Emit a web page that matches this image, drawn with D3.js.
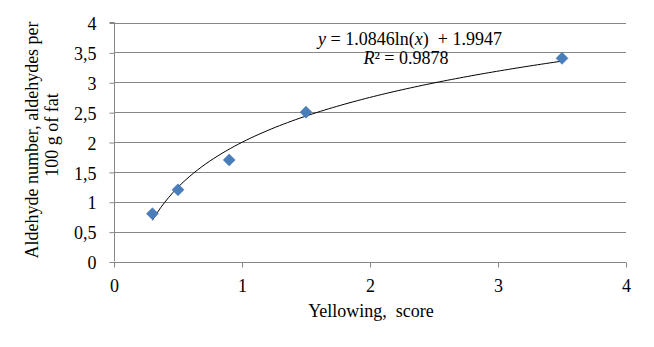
<!DOCTYPE html>
<html>
<head>
<meta charset="utf-8">
<script src="https://cdn.jsdelivr.net/npm/d3@7"></script>
<style>
  html, body { margin: 0; padding: 0; background: #fff; }
  .serif { font-family: "Liberation Serif"; font-size: 18px; }
</style>
</head>
<body>
<svg id="chart" width="654" height="347" style="display:block"></svg>
<script>
// Yellowing score vs aldehyde number
const yellowing = [0.3, 0.5, 0.9, 1.5, 3.5];
const aldehydes = [0.8, 1.2, 1.7, 2.5, 3.4];
const xTicks = [0, 1, 2, 3, 4];
const yTicks = [0, 0.5, 1, 1.5, 2, 2.5, 3, 3.5, 4];
// logarithmic trendline coefficients: y = a ln(x) + b
const trendA = 1.0846;
const trendB = 1.9947;
const rSquared = "0.9878";

const svg = d3.select("#chart");
const x = d3.scaleLinear().domain([0, 4]).range([114, 626]);
const y = d3.scaleLinear().domain([0, 4]).range([261.5, 22.5]);
const gridColor = "#868686";
const fmt = v => String(v).replace(".", ",");

// horizontal gridlines
svg.append("g").selectAll("line").data(yTicks.filter(d => d > 0)).join("line")
  .attr("x1", x(0)).attr("x2", x(4))
  .attr("y1", d => Math.round(y(d)) + 0.5).attr("y2", d => Math.round(y(d)) + 0.5)
  .attr("stroke", gridColor).attr("stroke-width", 1);

// y axis
const yAxis = svg.append("g")
  .attr("transform", `translate(${Math.round(x(0)) + 0.5},0)`)
  .call(d3.axisLeft(y).tickValues(yTicks).tickFormat(fmt).tickSize(5).tickPadding(13));
yAxis.attr("font-family", "Liberation Serif").attr("font-size", 18);
yAxis.select(".domain").attr("stroke", gridColor).attr("d", `M-5,${y(4)}H0V${y(0)}`);
yAxis.selectAll(".tick line").attr("stroke", gridColor).attr("y1", 0.5).attr("y2", 0.5);
yAxis.selectAll(".tick text").attr("class", "serif").attr("fill", "#000").attr("dy", "0.4em");

// x axis
const xAxis = svg.append("g")
  .attr("transform", `translate(0,${Math.round(y(0)) + 0.5})`)
  .call(d3.axisBottom(x).tickValues(xTicks).tickFormat(d => d).tickSize(5).tickPadding(12));
xAxis.attr("font-family", "Liberation Serif").attr("font-size", 18);
xAxis.select(".domain").attr("stroke", gridColor).attr("d", `M${x(0)},0H${x(4)}`);
xAxis.selectAll(".tick line").attr("stroke", gridColor);
xAxis.selectAll(".tick text").attr("class", "serif").attr("fill", "#000");

// trendline sampled along the fitted logarithmic curve
const xs = d3.range(0, 101).map(i => yellowing[0] + (yellowing[yellowing.length - 1] - yellowing[0]) * i / 100);
const line = d3.line().x(d => x(d)).y(d => y(trendA * Math.log(d) + trendB));
svg.append("path").datum(xs).attr("d", line)
  .attr("fill", "none").attr("stroke", "#000").attr("stroke-width", 1);

// data markers
svg.append("g").selectAll("path").data(yellowing.map((v, i) => [v, aldehydes[i]])).join("path")
  .attr("transform", d => `translate(${x(d[0])},${y(d[1])})`)
  .attr("d", "M0,-6L6,0L0,6L-6,0Z")
  .attr("fill", "#4a7ebb").attr("stroke", "#3f6fa8").attr("stroke-width", 0.5);

// equation label
const eq = svg.append("text").attr("class", "serif").attr("x", 410).attr("y", 45)
  .attr("text-anchor", "middle").attr("xml:space", "preserve");
eq.append("tspan").attr("font-style", "italic").text("y");
eq.append("tspan").text(" = " + trendA + "ln(");
eq.append("tspan").attr("font-style", "italic").text("x");
eq.append("tspan").text(")  + " + trendB);

const r2 = svg.append("text").attr("class", "serif").attr("x", 406).attr("y", 64)
  .attr("text-anchor", "middle");
r2.append("tspan").attr("font-style", "italic").text("R");
r2.append("tspan").text("² = " + rSquared);

// axis titles
svg.append("text").attr("class", "serif").attr("x", 371).attr("y", 317)
  .attr("text-anchor", "middle").attr("xml:space", "preserve").text("Yellowing,  score");

svg.append("text").attr("class", "serif").attr("transform", "translate(38,140) rotate(-90)")
  .attr("text-anchor", "middle").text("Aldehyde number, aldehydes per");
svg.append("text").attr("class", "serif").attr("transform", "translate(58,135) rotate(-90)")
  .attr("text-anchor", "middle").text("100 g of fat");
</script>
</body>
</html>
